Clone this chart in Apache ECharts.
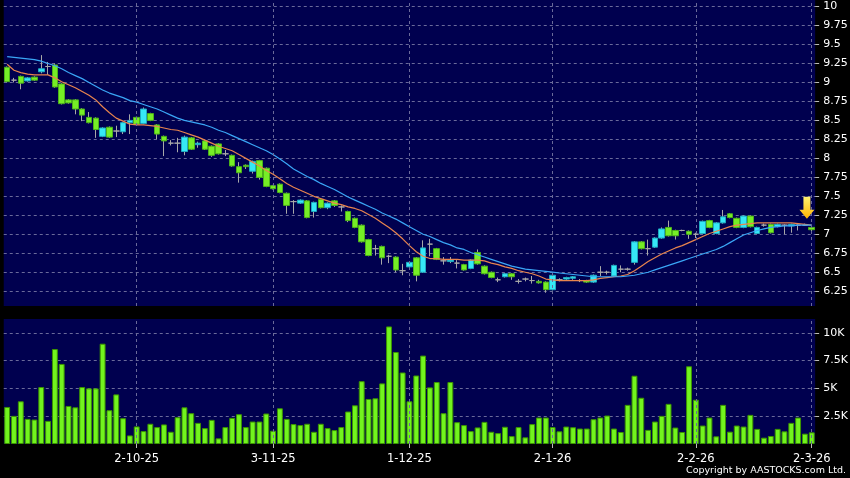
<!DOCTYPE html>
<html>
<head>
<meta charset="utf-8">
<title>AASTOCKS daily chart</title>
<script src="https://cdn.jsdelivr.net/npm/echarts@6/dist/echarts.min.js"></script>
<style>
  html, body { margin: 0; padding: 0; background: #000; }
  #chart { width: 850px; height: 478px; }
</style>
</head>
<body>
<div id="chart"></div>
<script>
// trading days, d-m-yy
const dates = [
  '4-9-25','5-9-25','8-9-25','9-9-25','10-9-25','11-9-25','12-9-25','15-9-25','16-9-25','17-9-25',
  '18-9-25','19-9-25','22-9-25','23-9-25','24-9-25','25-9-25','26-9-25','29-9-25','30-9-25',
  '2-10-25','3-10-25','6-10-25','8-10-25','9-10-25','10-10-25','13-10-25','14-10-25','15-10-25','16-10-25',
  '17-10-25','20-10-25','21-10-25','22-10-25','23-10-25','24-10-25','27-10-25','28-10-25','30-10-25','31-10-25',
  '3-11-25','4-11-25','5-11-25','6-11-25','7-11-25','10-11-25','11-11-25','12-11-25','13-11-25','14-11-25',
  '17-11-25','18-11-25','19-11-25','20-11-25','21-11-25','24-11-25','25-11-25','26-11-25','27-11-25','28-11-25',
  '1-12-25','2-12-25','3-12-25','4-12-25','5-12-25','8-12-25','9-12-25','10-12-25','11-12-25','12-12-25',
  '15-12-25','16-12-25','17-12-25','18-12-25','19-12-25','22-12-25','23-12-25','24-12-25','29-12-25','30-12-25','31-12-25',
  '2-1-26','5-1-26','6-1-26','7-1-26','8-1-26','9-1-26','12-1-26','13-1-26','14-1-26','15-1-26',
  '16-1-26','19-1-26','20-1-26','21-1-26','22-1-26','23-1-26','26-1-26','27-1-26','28-1-26','29-1-26','30-1-26',
  '2-2-26','3-2-26','4-2-26','5-2-26','6-2-26','9-2-26','10-2-26','11-2-26','12-2-26','13-2-26',
  '16-2-26','20-2-26','23-2-26','24-2-26','25-2-26','26-2-26','27-2-26',
  '2-3-26'
];

const open = [
  9.20,9.03,9.08,9.02,9.07,9.14,9.21,9.23,8.98,8.77, 8.77,8.65,8.54,8.53,8.29,8.41,8.36,8.35,8.47,8.54,
  8.46,8.59,8.44,8.29,8.20,8.20,8.09,8.27,8.18,8.23, 8.16,8.19,8.06,8.04,7.89,7.91,7.83,7.97,7.87,7.64,
  7.66,7.54,7.43,7.41,7.44,7.30,7.46,7.35,7.44,7.36, 7.30,7.21,7.12,6.93,6.81,6.84,6.71,6.70,6.52,6.57,
  6.69,6.50,6.87,6.81,6.65,6.64,6.62,6.60,6.55,6.76, 6.58,6.50,6.40,6.44,6.48,6.38,6.41,6.39,6.38,6.37,
  6.27,6.40,6.41,6.42,6.39,6.39,6.37,6.50,6.50,6.45, 6.54,6.54,6.63,6.90,6.81,6.83,6.95,7.09,7.05,7.05,
  7.04,7.00,7.01,7.18,7.01,7.15,7.27,7.21,7.09,7.24, 7.01,7.12,7.13,7.10,7.12,7.11,7.12,7.12,7.09
];
const close = [
  9.01,9.03,8.99,9.06,9.03,9.18,9.21,8.94,8.72,8.73, 8.65,8.57,8.47,8.38,8.40,8.28,8.36,8.47,8.50,8.45,
  8.65,8.50,8.32,8.23,8.20,8.20,8.28,8.12,8.20,8.12, 8.04,8.06,8.06,7.90,7.81,7.89,7.96,7.75,7.63,7.60,
  7.55,7.38,7.43,7.45,7.22,7.42,7.35,7.41,7.38,7.36, 7.18,7.09,6.90,6.72,6.81,6.69,6.71,6.53,6.52,6.63,
  6.46,6.82,6.87,6.67,6.65,6.66,6.62,6.53,6.66,6.61, 6.48,6.43,6.40,6.48,6.44,6.38,6.41,6.39,6.36,6.27,
  6.46,6.40,6.43,6.44,6.39,6.37,6.46,6.50,6.50,6.59, 6.54,6.54,6.90,6.81,6.81,6.95,7.07,6.98,6.98,7.05,
  7.00,7.00,7.17,7.09,7.15,7.23,7.22,7.09,7.24,7.10, 7.09,7.12,7.02,7.13,7.12,7.13,7.12,7.12,7.06
];
const high = [
  9.21,9.06,9.09,9.07,9.08,9.36,9.27,9.25,8.99,8.78, 8.78,8.66,8.61,8.54,8.41,8.42,8.43,8.48,8.58,8.55,
  8.67,8.60,8.45,8.30,8.24,8.27,8.30,8.28,8.22,8.24, 8.17,8.20,8.11,8.05,7.95,7.92,7.97,7.98,7.88,7.65,
  7.67,7.55,7.45,7.46,7.45,7.43,7.47,7.42,7.45,7.38, 7.31,7.22,7.13,6.94,6.86,6.85,6.73,6.71,6.61,6.64,
  6.70,6.92,6.94,6.82,6.70,6.70,6.66,6.61,6.67,6.80, 6.59,6.51,6.43,6.49,6.49,6.41,6.43,6.45,6.40,6.38,
  6.47,6.42,6.44,6.45,6.41,6.40,6.47,6.58,6.52,6.60, 6.59,6.56,6.91,6.91,6.93,6.96,7.09,7.18,7.06,7.06,
  7.05,7.02,7.18,7.19,7.16,7.32,7.28,7.22,7.25,7.25, 7.10,7.14,7.14,7.14,7.13,7.14,7.13,7.14,7.10
];
const low = [
  9.00,9.00,8.91,9.01,9.02,9.12,9.10,8.93,8.71,8.72, 8.58,8.49,8.46,8.27,8.28,8.27,8.28,8.32,8.32,8.44,
  8.45,8.49,8.25,8.03,8.17,8.08,8.04,8.11,8.14,8.11, 8.02,8.05,8.03,7.89,7.68,7.86,7.80,7.72,7.62,7.59,
  7.54,7.27,7.27,7.40,7.21,7.22,7.34,7.33,7.36,7.30, 7.16,7.08,6.89,6.71,6.72,6.60,6.62,6.50,6.46,6.56,
  6.38,6.49,6.71,6.66,6.60,6.62,6.55,6.52,6.54,6.60, 6.47,6.42,6.37,6.43,6.40,6.35,6.38,6.35,6.35,6.23,
  6.26,6.38,6.40,6.40,6.37,6.36,6.36,6.45,6.47,6.44, 6.50,6.52,6.60,6.80,6.72,6.82,6.94,6.97,6.93,7.04,
  6.94,6.95,7.00,7.08,7.00,7.14,7.21,7.08,7.08,7.09, 7.00,7.10,7.01,7.09,7.00,7.02,7.05,7.11,7.01
];

// thousands of shares
const volume = [
  3.33,2.53,3.84,2.26,2.20,5.12,2.08,8.54,7.20,3.42, 3.30,5.12,5.00,5.00,9.02,3.04,4.46,2.32,0.77,1.58,
  1.16,1.82,1.52,1.76,1.10,2.41,3.30,2.77,1.90,1.43, 2.17,0.51,1.52,2.35,2.68,1.52,2.02,2.02,2.74,1.19,
  3.21,2.26,1.79,1.70,1.82,1.10,1.82,1.43,1.25,1.52, 2.92,3.48,5.65,4.05,4.11,5.45,10.57,8.27,6.43,3.84,
  6.16,7.95,5.09,5.57,2.77,5.57,1.96,1.70,1.16,1.49, 1.99,1.10,0.98,1.55,0.71,1.52,0.60,1.79,2.38,2.38,
  1.52,1.14,1.57,1.51,1.39,1.39,2.23,2.38,2.56,1.39, 1.08,3.52,6.14,4.16,1.27,2.02,2.53,3.61,1.48,1.08,
  6.99,3.98,1.66,2.38,0.69,3.52,1.11,1.66,1.57,2.62, 1.36,0.57,0.72,1.36,1.14,1.90,2.38,0.93,1.05
];

const ma10 = [
  9.24,9.16,9.13,9.11,9.10,9.10,9.10,9.06,9.01,8.97, 8.93,8.88,8.83,8.77,8.68,8.60,8.53,8.49,8.45,8.44,
  8.44,8.43,8.42,8.40,8.38,8.37,8.34,8.31,8.28,8.24, 8.20,8.16,8.13,8.10,8.05,8.00,7.95,7.90,7.84,7.79,
  7.73,7.67,7.62,7.58,7.54,7.50,7.47,7.44,7.41,7.39, 7.36,7.34,7.31,7.26,7.21,7.15,7.09,7.02,6.94,6.85,
  6.77,6.71,6.68,6.68,6.67,6.67,6.67,6.66,6.66,6.66, 6.65,6.62,6.60,6.57,6.55,6.52,6.50,6.48,6.45,6.41,
  6.40,6.39,6.39,6.39,6.39,6.39,6.40,6.42,6.43,6.44, 6.45,6.47,6.52,6.58,6.64,6.69,6.74,6.78,6.82,6.85,
  6.89,6.93,6.97,7.01,7.04,7.07,7.10,7.12,7.13,7.14, 7.15,7.15,7.15,7.15,7.15,7.15,7.14,7.13,7.12
];
const ma20 = [
  9.34,9.33,9.32,9.31,9.30,9.28,9.25,9.22,9.18,9.13, 9.09,9.05,9.00,8.95,8.90,8.86,8.83,8.80,8.76,8.74,
  8.71,8.68,8.65,8.61,8.57,8.53,8.50,8.48,8.46,8.44, 8.41,8.37,8.34,8.30,8.26,8.22,8.18,8.14,8.10,8.05,
  7.99,7.93,7.86,7.81,7.76,7.72,7.67,7.63,7.59,7.54, 7.49,7.45,7.41,7.37,7.33,7.28,7.24,7.20,7.15,7.10,
  7.05,7.00,6.97,6.93,6.89,6.86,6.82,6.80,6.76,6.73, 6.70,6.67,6.64,6.61,6.58,6.56,6.54,6.53,6.52,6.51,
  6.50,6.49,6.48,6.47,6.46,6.45,6.44,6.44,6.44,6.44, 6.44,6.45,6.46,6.48,6.50,6.53,6.56,6.59,6.62,6.65,
  6.68,6.71,6.74,6.77,6.80,6.84,6.89,6.94,6.99,7.02, 7.05,7.07,7.09,7.10,7.11,7.11,7.12,7.12,7.12
];

const priceTicks = [6.25,6.5,6.75,7,7.25,7.5,7.75,8,8.25,8.5,8.75,9,9.25,9.5,9.75,10];
const volumeTicks = [2.5,5,7.5,10];
const arrowAt = { index: 117, price: 7.35 };

const chart = echarts.init(document.getElementById('chart'));

const wickData = dates.map((d, i) => [open[i], close[i], low[i], high[i]]);
const bodyData = dates.map((d, i) => [open[i], close[i], Math.min(open[i], close[i]), Math.max(open[i], close[i])]);

// first trading day of a month gets a label and a grid line
function monthStart(i) {
  if (i === 0) return false;
  return dates[i].split('-')[1] !== dates[i - 1].split('-')[1];
}
const monthLines = dates.filter((d, i) => monthStart(i)).map(d => ({ xAxis: d }));

const dashed = { color: '#6a6a9a', type: [3, 3], width: 1 };
const vLines = {
  silent: true, symbol: ['none', 'none'], label: { show: false },
  lineStyle: dashed, emphasis: { disabled: true }, data: monthLines
};

const option = {
  animation: false,
  backgroundColor: '#000',
  textStyle: { fontFamily: 'DejaVu Sans' },
  grid: [
    { left: 3.75, width: 811.4, top: 0, height: 306, show: true, backgroundColor: '#00004f', borderWidth: 0, outerBoundsMode: 'none' },
    { left: 3.75, width: 811.4, top: 319, height: 125, show: true, backgroundColor: '#00004f', borderWidth: 0, outerBoundsMode: 'none' }
  ],
  xAxis: [
    {
      type: 'category', gridIndex: 0, data: dates, boundaryGap: true,
      axisLine: { show: false }, axisTick: { show: false }, axisLabel: { show: false },
      splitLine: { show: false }
    },
    {
      type: 'category', gridIndex: 1, data: dates, boundaryGap: true,
      axisLine: { show: false },
      axisTick: { show: true, alignWithLabel: true, interval: monthStart, length: 4, lineStyle: { color: '#bbbbbb' } },
      axisLabel: { show: true, interval: monthStart, color: '#ffffff', fontSize: 11.5, margin: 9 },
      splitLine: { show: false }
    }
  ],
  yAxis: [
    {
      type: 'value', gridIndex: 0, position: 'right', min: 6.055, max: 10.086,
      axisLine: { show: false },
      axisTick: { show: true, length: 4, customValues: priceTicks, lineStyle: { color: '#bbbbbb' } },
      axisLabel: { color: '#ffffff', fontSize: 11, margin: 8, customValues: priceTicks },
      splitLine: { show: true, lineStyle: dashed }
    },
    {
      type: 'value', gridIndex: 1, position: 'right', min: 0, max: 11.24,
      axisLine: { show: false },
      axisTick: { show: true, length: 4, customValues: volumeTicks, lineStyle: { color: '#bbbbbb' } },
      axisLabel: { color: '#ffffff', fontSize: 11, margin: 8, customValues: volumeTicks, formatter: v => v + 'K' },
      splitLine: { show: true, lineStyle: dashed }
    }
  ],
  graphic: [
    {
      type: 'text', right: 4, top: 466,
      style: { text: 'Copyright by AASTOCKS.com Ltd.', fill: '#ffffff', font: '9.5px "DejaVu Sans"' }
    }
  ],
  series: [
    {
      name: 'wick', type: 'candlestick', xAxisIndex: 0, yAxisIndex: 0,
      data: wickData, barWidth: 1, silent: true,
      itemStyle: { color: '#a8a8a8', color0: '#a8a8a8', borderColor: '#a8a8a8', borderColor0: '#a8a8a8', borderColorDoji: '#a8a8a8', borderWidth: 1 },
      markLine: vLines
    },
    {
      name: 'body', type: 'candlestick', xAxisIndex: 0, yAxisIndex: 0,
      data: bodyData, barWidth: 6, silent: true,
      itemStyle: { color: '#36e8f6', color0: '#76ee26', borderColor: '#1fa9c0', borderColor0: '#4cb21a', borderColorDoji: '#a8a8a8', borderWidth: 1 }
    },
    {
      name: 'MA10', type: 'line', xAxisIndex: 0, yAxisIndex: 0, data: ma10,
      symbol: 'none', silent: true, lineStyle: { color: '#e8844e', width: 1.2 }
    },
    {
      name: 'MA20', type: 'line', xAxisIndex: 0, yAxisIndex: 0, data: ma20,
      symbol: 'none', silent: true, lineStyle: { color: '#3aa6f6', width: 1.2 },
      markPoint: {
        silent: true,
        symbol: 'path://M4,0 L11,0 L11,13 L15,13 L7.5,22 L0,13 L4,13 Z',
        symbolSize: [15, 22],
        symbolOffset: [2, 0],
        label: { show: false },
        itemStyle: {
          color: new echarts.graphic.LinearGradient(0, 0, 0, 1, [
            { offset: 0, color: '#fff170' }, { offset: 1, color: '#ffb400' }
          ])
        },
        data: [{ coord: [dates[arrowAt.index], arrowAt.price] }]
      }
    },
    {
      name: 'Volume', type: 'bar', xAxisIndex: 1, yAxisIndex: 1, data: volume,
      barCategoryGap: '14%', silent: true,
      itemStyle: { color: '#72f41e', borderColor: '#3c9400', borderWidth: 1 },
      markLine: vLines
    }
  ]
};

chart.setOption(option);
</script>
</body>
</html>
